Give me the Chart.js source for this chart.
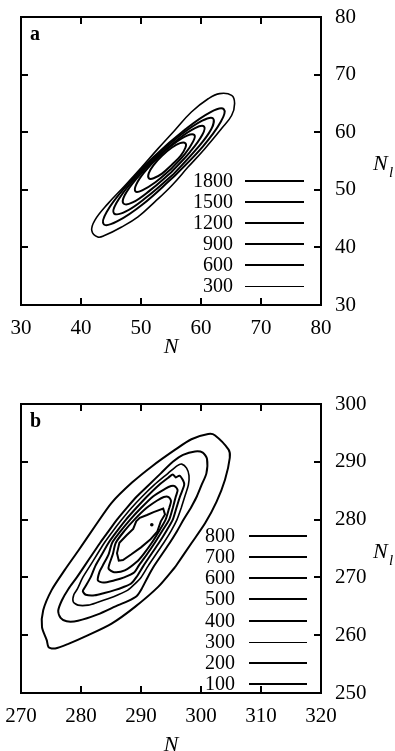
<!DOCTYPE html>
<html>
<head>
<meta charset="utf-8">
<script src="https://cdn.jsdelivr.net/npm/chart.js@4.4.1/dist/chart.umd.min.js"></script>
<style>
  html, body { margin: 0; padding: 0; background: #fff; overflow: hidden; }
  canvas { position: absolute; left: 0; }
  #chartA { top: 0; }
  #chartB { top: 375px; }
</style>
</head>
<body>
<canvas id="chartA" width="395" height="375"></canvas>
<canvas id="chartB" width="395" height="386"></canvas>
<script>
// ---- panel a : contour levels and contour points [N, Nl] ----
const levelsA = [300, 600, 900, 1200, 1500, 1800];
const xTicksA = [30, 40, 50, 60, 70, 80];
const yTicksA = [30, 40, 50, 60, 70, 80];

const contourA300 = [[57.8,53.9],[55.1,50.7],[52.3,47.9],[49.5,45.3],[46.7,43.5],[44.0,42.1],[42.8,41.8],[41.8,42.9],[42.3,44.7],[44.5,47.6],[47.3,50.7],[50.1,53.9],[52.8,57.1],[55.6,60.3],[58.4,63.5],[61.2,65.8],[63.1,66.7],[65.1,66.4],[65.6,65.0],[65.1,62.9],[63.4,60.6],[60.6,57.1]];
const contourA600 = [[55.5,52.3],[50.3,47.5],[46.0,44.5],[43.8,44.0],[44.3,46.2],[47.4,50.5],[52.1,55.7],[57.4,60.5],[61.6,63.5],[63.8,64.0],[63.3,61.8],[60.3,57.5]];
const contourA900 = [[55.3,52.6],[50.9,48.7],[47.4,46.2],[45.5,45.9],[45.9,47.7],[48.4,51.3],[52.3,55.6],[56.6,59.5],[60.2,62.0],[62.0,62.4],[61.7,60.5],[59.2,57.0]];
const contourA1200 = [[55.0,53.0],[51.5,49.9],[48.6,47.8],[47.1,47.6],[47.3,49.1],[49.3,52.0],[52.5,55.5],[56.1,58.7],[59.0,60.7],[60.5,61.0],[60.2,59.5],[58.2,56.6]];
const contourA1500 = [[55.0,53.6],[52.4,51.3],[50.2,49.9],[49.1,49.7],[49.2,50.9],[50.6,53.1],[52.9,55.7],[55.5,58.0],[57.7,59.4],[58.9,59.5],[58.7,58.4],[57.3,56.2]];
const contourA1800 = [[55.1,54.3],[53.5,52.8],[52.1,52.0],[51.3,52.0],[51.3,52.9],[52.1,54.3],[53.5,55.9],[55.1,57.3],[56.5,58.1],[57.4,58.1],[57.4,57.3],[56.6,55.9]];

// ---- panel b ----
const levelsB = [100, 200, 300, 400, 500, 600, 700, 800];
const xTicksB = [270, 280, 290, 300, 310, 320];
const yTicksB = [250, 260, 270, 280, 290, 300];

const contourB100 = [[295.7,271.8],[292.9,268.4],[289.0,264.9],[285.1,262.0],[281.2,260.0],[277.9,258.5],[275.7,257.7],[274.6,257.9],[274.3,259.1],[273.5,261.4],[273.7,264.3],[275.1,267.8],[277.3,271.3],[279.6,274.7],[282.3,278.8],[285.1,282.9],[288.5,286.4],[291.8,289.2],[295.7,292.1],[298.4,293.9],[301.2,294.8],[302.3,294.6],[304.6,292.1],[304.8,290.7],[304.0,286.9],[302.6,283.1],[300.7,279.4],[298.4,275.9]];
const contourB200 = [[298.3,282.0],[297.1,280.0],[296.0,278.0],[294.8,276.0],[293.5,274.0],[292.2,272.0],[291.1,270.0],[290.1,268.0],[289.3,266.8],[287.8,265.9],[286.2,265.2],[282.8,263.6],[279.5,262.5],[277.6,262.4],[276.6,263.0],[276.2,264.2],[276.8,266.0],[277.9,268.0],[279.3,270.0],[280.6,272.0],[281.9,274.0],[283.2,276.0],[284.6,278.0],[286.0,280.0],[287.6,282.0],[289.3,284.0],[291.3,286.0],[293.3,288.0],[295.3,290.0],[297.0,291.2],[299.0,291.8],[300.3,291.6],[301.0,290.5],[300.9,288.0],[300.1,286.0],[299.3,284.0]];
const contourB300 = [[296.7,282.0],[296.0,280.0],[295.0,278.0],[293.8,276.0],[292.5,274.0],[291.2,272.0],[290.0,270.0],[288.9,268.8],[287.8,267.8],[286.2,267.0],[284.5,266.3],[282.8,265.7],[281.2,265.2],[279.5,265.2],[278.7,265.8],[278.8,267.0],[279.4,268.0],[280.3,270.0],[281.5,272.0],[282.7,274.0],[283.9,276.0],[285.3,278.0],[286.8,280.0],[288.4,282.0],[290.2,284.0],[292.2,286.0],[294.5,288.0],[296.0,289.3],[296.8,289.6],[297.6,288.9],[298.0,287.6],[297.9,286.0],[297.3,284.0]];
const contourB400 = [[295.9,282.0],[295.3,280.0],[294.2,278.0],[293.0,276.0],[291.7,274.0],[290.4,272.0],[289.2,270.0],[288.3,268.9],[287.0,268.3],[285.6,267.8],[283.9,267.3],[282.3,266.9],[280.8,267.0],[280.3,267.6],[280.6,268.2],[281.6,270.0],[282.4,272.0],[283.5,274.0],[284.6,276.0],[286.0,278.0],[287.5,280.0],[289.2,282.0],[291.0,284.0],[293.0,286.0],[294.6,287.3],[295.3,287.8],[295.8,287.3],[296.4,287.6],[297.0,286.8],[297.2,286.0],[296.5,284.0]];
const contourB500 = [[295.3,282.0],[294.7,280.0],[293.5,278.0],[292.3,276.0],[291.0,274.0],[289.6,272.0],[288.9,270.9],[287.2,270.0],[285.6,269.5],[283.7,269.1],[282.8,269.5],[283.1,271.0],[283.6,272.0],[284.6,274.0],[285.2,276.0],[286.6,278.0],[288.2,280.0],[290.0,282.0],[292.0,284.0],[294.0,285.3],[295.0,285.8],[295.6,285.8],[296.1,285.1],[295.8,284.0]];
const contourB600 = [[294.7,282.0],[294.1,280.0],[293.0,278.0],[291.8,276.0],[290.4,274.0],[289.3,272.7],[287.3,271.2],[285.5,270.9],[284.6,271.5],[284.7,272.2],[285.3,274.0],[285.8,276.0],[287.2,278.0],[288.9,280.0],[290.9,282.0],[292.7,283.3],[293.8,283.9],[294.6,283.9],[295.0,283.2]];
const contourB700 = [[291.5,276.5],[290.0,275.2],[288.4,274.0],[287.0,273.0],[286.3,272.9],[286.0,274.2],[286.4,276.0],[287.6,277.3],[288.7,278.4],[289.2,279.7],[289.8,280.3],[291.0,280.8],[292.1,281.3],[293.7,281.9],[294.0,280.9],[293.3,279.7],[292.7,277.9]];
const peakB800 = [[291.8, 279.1]];

const serif = "'Liberation Serif', 'Times New Roman', serif";

function ring(pts) {
  return pts.concat([pts[0]]).map(p => ({ x: p[0], y: p[1] }));
}

function contourSet(pts, level, tension) {
  return {
    label: String(level),
    data: ring(pts),
    showLine: true,
    borderColor: '#000',
    borderWidth: level === 300 ? 1.6 : 2,
    pointRadius: 0,
    tension: tension,
    fill: false
  };
}

// label offsets come from (hidden) tick length so the chart area is not shrunk
function axes(xt, yt, xHeight, titlePad) {
  const tickFont = { family: serif, size: 21 };
  const fix = vals => s => { s.ticks = vals.map(v => ({ value: v })); };
  return {
    x: {
      type: 'linear', position: 'bottom',
      min: xt[0], max: xt[xt.length - 1],
      afterBuildTicks: fix(xt),
      afterFit: s => { s.height = xHeight; },
      grid: { display: false, drawTicks: true, tickLength: 11 },
      border: { display: false },
      ticks: { font: tickFont, color: '#000', padding: 0, maxRotation: 0, autoSkip: false },
      title: { display: true, text: 'N', color: '#000',
               font: { family: serif, size: 22, style: 'italic' },
               padding: { top: 0, bottom: titlePad } }
    },
    y: {
      type: 'linear', position: 'right',
      min: yt[0], max: yt[yt.length - 1],
      afterBuildTicks: fix(yt),
      afterFit: s => { s.width = 74; },
      grid: { display: false, drawTicks: true, tickLength: 14 },
      border: { display: false },
      ticks: { font: tickFont, color: '#000', padding: 0, autoSkip: false }
    }
  };
}

// frame, inner ticks, panel letter, N_l title and the level legend
const decor = {
  id: 'decor',
  afterDraw(chart, args, o) {
    const { ctx, chartArea: a, scales: { x, y } } = chart;
    ctx.save();
    ctx.strokeStyle = '#000';
    ctx.fillStyle = '#000';
    ctx.lineWidth = 2;
    ctx.strokeRect(a.left, a.top, a.right - a.left, a.bottom - a.top);

    ctx.beginPath();
    x.ticks.forEach(t => {
      if (t.value <= x.min || t.value >= x.max) return;
      const p = Math.round(x.getPixelForValue(t.value));
      ctx.moveTo(p, a.bottom); ctx.lineTo(p, a.bottom - 7);
      ctx.moveTo(p, a.top); ctx.lineTo(p, a.top + 7);
    });
    y.ticks.forEach(t => {
      if (t.value <= y.min || t.value >= y.max) return;
      const p = Math.round(y.getPixelForValue(t.value));
      ctx.moveTo(a.left, p); ctx.lineTo(a.left + 7, p);
      ctx.moveTo(a.right, p); ctx.lineTo(a.right - 7, p);
    });
    ctx.stroke();

    ctx.textAlign = 'left';
    ctx.textBaseline = 'alphabetic';
    ctx.font = 'bold 20px ' + serif;
    ctx.fillText(o.letter, a.left + 9, a.top + 23);

    const ty = (a.top + a.bottom) / 2 + 9;
    ctx.font = 'italic 22px ' + serif;
    ctx.fillText('N', a.right + 52, ty);
    ctx.font = 'italic 15px ' + serif;
    ctx.fillText('l', a.right + 68, ty + 7);

    ctx.font = '20px ' + serif;
    ctx.textAlign = 'right';
    ctx.textBaseline = 'middle';
    o.levels.forEach((lv, i) => {
      const ry = Math.round(a.bottom - o.rowBottom - i * o.rowStep);
      ctx.fillText(String(lv), a.right - o.labelGap, ry + 1);
      const thin = lv === 300;
      ctx.lineWidth = thin ? 1 : 2;
      ctx.beginPath();
      ctx.moveTo(a.right - o.lineFrom, ry + (thin ? 0.5 : 0));
      ctx.lineTo(a.right - o.lineTo, ry + (thin ? 0.5 : 0));
      ctx.stroke();
    });
    ctx.restore();
  }
};

function baseOptions(xt, yt, xHeight, titlePad, padTop, legend) {
  return {
    responsive: false,
    animation: false,
    devicePixelRatio: 1,
    events: [],
    layout: { padding: { left: 21, top: padTop, right: 0, bottom: 0 } },
    scales: axes(xt, yt, xHeight, titlePad),
    plugins: { legend: { display: false }, tooltip: { enabled: false }, decor: legend }
  };
}

const listA = [contourA300, contourA600, contourA900, contourA1200, contourA1500, contourA1800];
new Chart(document.getElementById('chartA'), {
  type: 'scatter',
  data: { datasets: listA.map((pts, i) => contourSet(pts, levelsA[i], 0.4)) },
  options: baseOptions(xTicksA, yTicksA, 70, 15, 17,
    { letter: 'a', levels: levelsA, rowBottom: 19, rowStep: 21, labelGap: 88, lineFrom: 76, lineTo: 17 }),
  plugins: [decor]
});

const listB = [contourB100, contourB200, contourB300, contourB400, contourB500, contourB600, contourB700];
const setsB = listB.map((pts, i) => contourSet(pts, levelsB[i], i === 6 ? 0 : 0.25));
setsB.push({
  label: String(levelsB[7]),
  data: peakB800.map(p => ({ x: p[0], y: p[1] })),
  pointRadius: 1.8, backgroundColor: '#000', borderWidth: 0
});
new Chart(document.getElementById('chartB'), {
  type: 'scatter',
  data: { datasets: setsB },
  options: baseOptions(xTicksB, yTicksB, 68, 3, 29,
    { letter: 'b', levels: levelsB, rowBottom: 9, rowStep: 21.14, labelGap: 86, lineFrom: 72, lineTo: 14 }),
  plugins: [decor]
});
</script>
</body>
</html>
